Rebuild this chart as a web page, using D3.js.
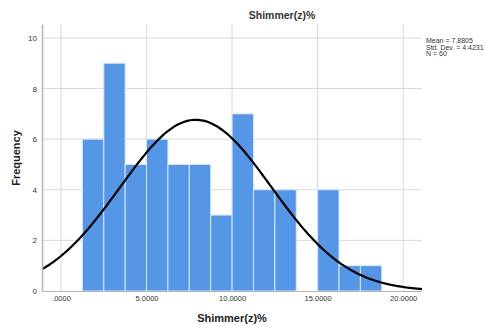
<!DOCTYPE html>
<html>
<head>
<meta charset="utf-8">
<script src="https://cdn.jsdelivr.net/npm/d3@7"></script>
<style>
  body { margin: 0; background: #fff; }
  text { font-family: Arial, "Liberation Sans", sans-serif; }
</style>
</head>
<body>
<svg width="485" height="326"></svg>
<script>
// histogram bins (lower edge, upper edge, count)
var binStarts = [1.25, 2.5, 3.75, 5, 6.25, 7.5, 8.75, 10, 11.25, 12.5, 13.75, 15, 16.25, 17.5];
var binWidth = 1.25;
var counts = [6, 9, 5, 6, 5, 5, 3, 7, 4, 4, 0, 4, 1, 1];
var xTicks = [0, 5, 10, 15, 20];
var yTicks = [0, 2, 4, 6, 8, 10];
var statMean = 7.8805, statSd = 4.4231, statN = 60;
var statLines = ["Mean = 7.8805", "Std. Dev. = 4.4231", "N = 60"];

var svg = d3.select("svg"),
    margin = {top: 24, right: 63, bottom: 35, left: 42},
    width = 485 - margin.left - margin.right,
    height = 326 - margin.top - margin.bottom,
    g = svg.append("g").attr("transform", "translate(" + margin.left + "," + margin.top + ")");

var x = d3.scaleLinear().domain([-1.11, 21.1]).range([0, width]);
var y = d3.scaleLinear().domain([0, 10.55]).range([height, 0]);

// grid
g.selectAll(".hgrid").data(yTicks.slice(1)).enter().append("line")
    .attr("x1", 0).attr("x2", width)
    .attr("y1", function(d) { return y(d); }).attr("y2", function(d) { return y(d); })
    .attr("stroke", "#d9d9d9").attr("stroke-width", 1);
g.selectAll(".vgrid").data(xTicks).enter().append("line")
    .attr("x1", function(d) { return x(d); }).attr("x2", function(d) { return x(d); })
    .attr("y1", 0).attr("y2", height)
    .attr("stroke", "#d9d9d9").attr("stroke-width", 1);

// bars
g.selectAll(".bar").data(binStarts).enter().append("rect")
    .attr("x", function(d) { return x(d); })
    .attr("width", function(d) { return x(d + binWidth) - x(d); })
    .attr("y", function(d, i) { return y(counts[i]); })
    .attr("height", function(d, i) { return y(0) - y(counts[i]); })
    .attr("fill", function(d, i) { return counts[i] > 0 ? "#5596e6" : "none"; })
    .attr("stroke", "#d8e6f8").attr("stroke-width", 1);

// normal curve
var peak = statN * binWidth / (statSd * Math.sqrt(2 * Math.PI));
var curveX = d3.range(0, 201).map(function(i) { return -1.11 + i * (22.21 / 200); });
var line = d3.line()
    .x(function(d) { return x(d); })
    .y(function(d) { var z = (d - statMean) / statSd; return y(peak * Math.exp(-0.5 * z * z)); })
    .curve(d3.curveBasis);
g.append("path").datum(curveX)
    .attr("fill", "none").attr("stroke", "#000").attr("stroke-width", 2.2)
    .attr("d", line);

// axes
var yAxis = g.append("g").call(d3.axisLeft(y).tickValues(yTicks).tickSize(0).tickPadding(5));
yAxis.select(".domain").attr("stroke", "#b5b5b5").attr("stroke-width", 1.5);
yAxis.selectAll("text").attr("font-size", 8).attr("fill", "#333");

var xAxis = g.append("g").attr("transform", "translate(0," + height + ")")
    .call(d3.axisBottom(x).tickValues(xTicks).tickSize(0).tickPadding(5)
        .tickFormat(function(d) { return d === 0 ? ".0000" : d3.format(".4f")(d); }));
xAxis.select(".domain").attr("stroke", "#b5b5b5").attr("stroke-width", 1);
xAxis.selectAll("text").attr("font-size", 7.5).attr("fill", "#333");

// titles
svg.append("text").attr("x", 282).attr("y", 19).attr("text-anchor", "middle")
    .attr("font-size", 10.5).attr("font-weight", "bold").attr("fill", "#333").text("Shimmer(z)%");
svg.append("text").attr("x", margin.left + width / 2).attr("y", 322).attr("text-anchor", "middle")
    .attr("font-size", 11).attr("font-weight", "bold").attr("fill", "#222").text("Shimmer(z)%");
svg.append("text").attr("transform", "translate(20,158) rotate(-90)").attr("text-anchor", "middle")
    .attr("font-size", 11).attr("font-weight", "bold").attr("fill", "#222").text("Frequency");

// stats box
svg.selectAll(".stat").data(statLines).enter().append("text")
    .attr("x", 426).attr("y", function(d, i) { return 43 + i * 6.5; })
    .attr("font-size", 7).attr("fill", "#333").text(function(d) { return d; });
</script>
</body>
</html>
